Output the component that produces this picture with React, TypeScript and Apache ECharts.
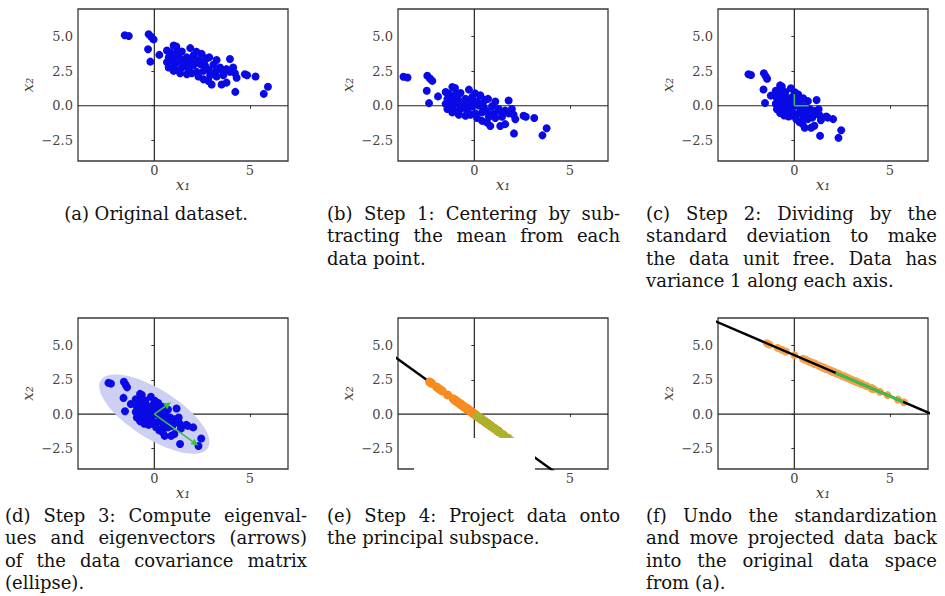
import React, { useEffect, useRef } from "react";
import * as echarts from "echarts";

// Original dataset (panel a): [x1, x2]
const ORIGINAL_POINTS: [number, number][] = [
  [-1.55, 5.1], [-1.34, 5.05], [-0.3, 5.17], [-0.16, 4.98], [-0.04, 4.8],
  [-0.33, 4.09], [-0.21, 3.19], [0.26, 3.68], [1.01, 4.36], [1.15, 4.29],
  [1.88, 4.17], [0.66, 4.0], [0.83, 3.87], [1.44, 3.92], [1.27, 3.75],
  [0.75, 3.5], [1.01, 3.58], [1.35, 3.38], [1.7, 3.5], [2.05, 3.63],
  [2.48, 3.75], [0.66, 3.14], [0.92, 3.01], [1.18, 3.14], [1.61, 3.09],
  [1.96, 3.26], [2.31, 3.31], [2.74, 3.43], [2.88, 3.5], [3.96, 3.38],
  [3.26, 3.31], [0.75, 2.77], [1.09, 2.65], [1.44, 2.77], [1.7, 2.89],
  [2.05, 2.94], [2.4, 3.01], [2.66, 2.89], [3.09, 2.97], [3.44, 2.77],
  [3.78, 2.65], [4.13, 2.77], [3.96, 2.45], [4.22, 2.35], [4.74, 2.28],
  [4.86, 2.21], [5.3, 2.11], [4.31, 2.03], [1.7, 2.28], [1.96, 2.35],
  [2.22, 2.45], [2.57, 2.52], [2.83, 2.6], [3.18, 2.45], [2.57, 1.91],
  [2.83, 1.79], [3.0, 1.54], [3.52, 1.54], [3.78, 1.67], [4.24, 1.0],
  [5.95, 1.37], [5.73, 0.86], [1.01, 2.52], [1.35, 2.35], [3.26, 2.11],
  [3.61, 2.21], [2.31, 2.11], [2.92, 2.21], [1.2, 3.9], [2.2, 3.9],
  [1.5, 3.2], [0.9, 3.3], [3.5, 2.6], [2.6, 3.2], [1.8, 2.6], [0.9, 2.9],
];

const X_TICKS = [0, 5];
const Y_TICKS = [-2.5, 0, 2.5, 5];
const AXIS_MIN = -4;
const AXIS_MAX = 7;

const CAPTIONS: { lines: string[]; center?: boolean }[] = [
  { lines: ["(a) Original dataset."], center: true },
  { lines: ["(b) Step 1: Centering by sub-", "tracting the mean from each", "data point."] },
  { lines: ["(c) Step 2: Dividing by the", "standard deviation to make", "the data unit free. Data has", "variance 1 along each axis."] },
  { lines: ["(d) Step 3: Compute eigenval-", "ues and eigenvectors (arrows)", "of the data covariance matrix", "(ellipse)."] },
  { lines: ["(e) Step 4: Project data onto", "the principal subspace."] },
  { lines: ["(f) Undo the standardization", "and move projected data back", "into the original data space", "from (a)."] },
];

// layout
const GRID_LEFT = [78, 398, 718];
const GRID_TOP = [9, 318];
const GRID_W = 210;
const GRID_H = [152, 151];
const CAP_X = [5, 327, 646];
const CAP_W = [302, 293, 291];
const CAP_Y = [213, 515];
const CAP_LH = 22.5;
const CAP_FS = 18;
const SERIF = '"DejaVu Serif", serif';

const BLUE = "#0a0ae6";
const ORANGE = "#f78b20";
const GREEN = "#3fbf4a";

function analyse() {
  const n = ORIGINAL_POINTS.length;
  let mx = 0, my = 0;
  ORIGINAL_POINTS.forEach(([x, y]) => { mx += x; my += y; });
  mx /= n; my /= n;
  let vx = 0, vy = 0;
  ORIGINAL_POINTS.forEach(([x, y]) => { vx += (x - mx) ** 2; vy += (y - my) ** 2; });
  const sx = Math.sqrt(vx / n), sy = Math.sqrt(vy / n);
  const centered = ORIGINAL_POINTS.map(([x, y]) => [x - mx, y - my]);
  const standard = centered.map(([x, y]) => [x / sx, y / sy]);
  let r = 0;
  standard.forEach(([x, y]) => { r += x * y; });
  r /= n;
  const l1 = 1 + Math.abs(r), l2 = 1 - Math.abs(r);
  const s = r < 0 ? -1 : 1;
  const v1 = [1 / Math.SQRT2, s / Math.SQRT2];
  const v2 = [-s / Math.SQRT2, 1 / Math.SQRT2];
  const proj = standard.map(([x, y]) => {
    const t = x * v1[0] + y * v1[1];
    return [t * v1[0], t * v1[1]];
  });
  const back = proj.map(([x, y]) => [x * sx + mx, y * sy + my]);
  return { mx, my, sx, sy, centered, standard, l1, l2, v1, v2, proj, back };
}

function arrowRender(color: string, width: number, head: boolean) {
  return (params: any, api: any) => {
    const p0 = api.coord([api.value(0), api.value(1)]);
    const p1 = api.coord([api.value(2), api.value(3)]);
    const ang = Math.atan2(p1[1] - p0[1], p1[0] - p0[0]);
    const L = head ? 7 : 0, Wd = 3.5;
    const c = Math.cos(ang), sn = Math.sin(ang);
    const bx = p1[0] - L * c, by = p1[1] - L * sn;
    const children: any[] = [
      { type: "line", shape: { x1: p0[0], y1: p0[1], x2: bx, y2: by }, style: { stroke: color, lineWidth: width } },
    ];
    if (head) {
      children.push({
        type: "polygon",
        shape: { points: [[p1[0], p1[1]], [bx - Wd * sn, by + Wd * c], [bx + Wd * sn, by - Wd * c]] },
        style: { fill: color },
      });
    }
    return { type: "group", children };
  };
}

export default function App() {
  const ref = useRef<HTMLDivElement>(null);
  useEffect(() => {
    document.body.style.margin = "0";
    if (!ref.current) return;
    const chart = echarts.init(ref.current, null, { renderer: "svg", width: 945, height: 596 });
    const A = analyse();

    const grids: any[] = [];
    const xAxes: any[] = [];
    const yAxes: any[] = [];
    const series: any[] = [];
    const nameStyle = { fontFamily: SERIF, fontStyle: "italic", fontSize: 15, color: "#444" };
    for (let row = 0; row < 2; row++) {
      for (let col = 0; col < 3; col++) {
        const gi = row * 3 + col;
        grids.push({
          left: GRID_LEFT[col], top: GRID_TOP[row], width: GRID_W, height: GRID_H[row],
          show: true, borderColor: "#3a3a3a", borderWidth: 1.3, backgroundColor: "transparent",
          outerBoundsMode: "none",
        });
        xAxes.push({
          gridIndex: gi, type: "value", min: AXIS_MIN, max: AXIS_MAX,
          splitLine: { show: false }, axisLine: { show: false },
          axisTick: { show: true, length: 3, customValues: X_TICKS, lineStyle: { color: "#333" } },
          axisLabel: { customValues: X_TICKS, fontFamily: SERIF, fontSize: 13, color: "#444", margin: 3 },
          name: "x₁", nameLocation: "middle", nameGap: 14, nameTextStyle: nameStyle,
        });
        yAxes.push({
          gridIndex: gi, type: "value", min: AXIS_MIN, max: AXIS_MAX,
          splitLine: { show: false }, axisLine: { show: false },
          axisTick: { show: true, length: 3, customValues: Y_TICKS, lineStyle: { color: "#333" } },
          axisLabel: {
            customValues: Y_TICKS, fontFamily: SERIF, fontSize: 13, color: "#444", margin: 5,
            formatter: (v: number) => (v < 0 ? "\u2212" : "") + Math.abs(v).toFixed(1),
          },
          name: "x₂", nameLocation: "middle", nameGap: 43, nameRotate: 90, nameTextStyle: nameStyle,
        });
        series.push({
          type: "line", xAxisIndex: gi, yAxisIndex: gi, silent: true, symbol: "none", z: 1,
          data: [[AXIS_MIN, 0], [AXIS_MAX, 0]], lineStyle: { color: "#222", width: 1.2 },
        });
        series.push({
          type: "line", xAxisIndex: gi, yAxisIndex: gi, silent: true, symbol: "none", z: 1,
          data: [[0, AXIS_MIN], [0, AXIS_MAX]], lineStyle: { color: "#333", width: 1.3 },
        });
      }
    }
    const scatter = (gi: number, data: number[][], color: string, size: number, z: number) => ({
      type: "scatter", xAxisIndex: gi, yAxisIndex: gi, data, symbolSize: size, z,
      itemStyle: { color, opacity: 1 }, silent: true,
    });
    const arrows = (gi: number, data: number[][], color: string, width: number, head: boolean, z: number) => ({
      type: "custom", xAxisIndex: gi, yAxisIndex: gi, data, z, silent: true,
      encode: { x: [0, 2], y: [1, 3] }, renderItem: arrowRender(color, width, head),
    });

    const ARROW_K = 2.45;
    const ELL_K = 2.85;
    const a1 = ARROW_K * Math.sqrt(A.l1), a2 = ARROW_K * Math.sqrt(A.l2);
    const long = [A.v1[0] * a1, A.v1[1] * a1];
    const short = [A.v2[0] * a2, A.v2[1] * a2];

    // (a)
    series.push(scatter(0, ORIGINAL_POINTS as any, BLUE, 8, 3));
    // (b)
    series.push(scatter(1, A.centered, BLUE, 8, 3));
    // (c)
    series.push(scatter(2, A.standard, BLUE, 8, 3));
    series.push(arrows(2, [[0, 0, 0.75, 0], [0, 0, 0, 0.85]], GREEN, 1.5, false, 4));
    // (d)
    const e1 = ELL_K * Math.sqrt(A.l1), e2 = ELL_K * Math.sqrt(A.l2) * 1.1;
    series.push({
      type: "custom", xAxisIndex: 3, yAxisIndex: 3, data: [[0, 0]], z: 2, silent: true,
      renderItem: (params: any, api: any) => {
        const cx = api.value(0), cy = api.value(1);
        const pts: number[][] = [];
        for (let k = 0; k < 90; k++) {
          const t = (2 * Math.PI * k) / 90;
          const dx = e1 * Math.cos(t) * A.v1[0] + e2 * Math.sin(t) * A.v2[0];
          const dy = e1 * Math.cos(t) * A.v1[1] + e2 * Math.sin(t) * A.v2[1];
          pts.push(api.coord([cx + dx, cy + dy]));
        }
        return { type: "polygon", shape: { points: pts }, style: { fill: "#cdcff3" } };
      },
    });
    series.push(scatter(3, A.standard, BLUE, 8, 3));
    series.push(arrows(3, [[0, 0, long[0], long[1]], [0, 0, short[0], short[1]]], GREEN, 1.5, true, 4));
    // (e)
    series.push({
      type: "line", xAxisIndex: 4, yAxisIndex: 4, silent: true, symbol: "none", z: 2,
      data: [[-20 * A.v1[0], -20 * A.v1[1]], [20 * A.v1[0], 20 * A.v1[1]]],
      lineStyle: { color: "#000", width: 2.4 },
    });
    series.push(scatter(4, A.proj, ORANGE, 9, 3));
    series.push(arrows(4, [[0, 0, long[0], long[1]]], "#a8b42c", 8, false, 4));
    // (f)
    series.push(scatter(5, A.back, "#f6a350", 8, 3));
    series.push({
      type: "line", xAxisIndex: 5, yAxisIndex: 5, silent: true, symbol: "none", z: 4,
      data: [
        [A.mx - 20 * A.v1[0] * A.sx, A.my - 20 * A.v1[1] * A.sy],
        [A.mx + 20 * A.v1[0] * A.sx, A.my + 20 * A.v1[1] * A.sy],
      ],
      lineStyle: { color: "#000", width: 2.4 },
    });
    series.push(arrows(5, [[A.mx, A.my, A.mx + long[0] * A.sx, A.my + long[1] * A.sy]], GREEN, 3, false, 5));

    // captions
    const graphic: any[] = [];
    const ctx = document.createElement("canvas").getContext("2d")!;
    ctx.font = `${CAP_FS}px "DejaVu Serif"`;
    CAPTIONS.forEach((cap, ci) => {
      const col = ci % 3, row = Math.floor(ci / 3);
      const x0 = CAP_X[col], w = CAP_W[col];
      cap.lines.forEach((line, li) => {
        const y = CAP_Y[row] + li * CAP_LH;
        const base = { fontSize: CAP_FS, fontFamily: SERIF, fill: "#111", verticalAlign: "middle" };
        if (cap.center) {
          graphic.push({ type: "text", x: x0 + w / 2, y, silent: true, style: { ...base, text: line, align: "center" } });
        } else if (li === cap.lines.length - 1) {
          graphic.push({ type: "text", x: x0, y, silent: true, style: { ...base, text: line, align: "left" } });
        } else {
          const words = line.split(" ");
          const widths = words.map((wd) => ctx.measureText(wd).width);
          const total = widths.reduce((p, q) => p + q, 0);
          const gap = Math.max(3, (w - total) / (words.length - 1));
          let cx = x0;
          words.forEach((wd, k) => {
            graphic.push({ type: "text", x: cx, y, silent: true, style: { ...base, text: wd, align: "left" } });
            cx += widths[k] + gap;
          });
        }
      });
    });
    // white patch present in panel (e) of the reference
    graphic.push({ type: "rect", z: 100, silent: true, shape: { x: 414, y: 438, width: 121, height: 62 }, style: { fill: "#fff" } });

    chart.setOption({
      animation: false,
      backgroundColor: "#fff",
      grid: grids,
      xAxis: xAxes,
      yAxis: yAxes,
      series,
      graphic,
    });
    return () => chart.dispose();
  }, []);
  return <div ref={ref} style={{ width: 945, height: 596 }} />;
}
